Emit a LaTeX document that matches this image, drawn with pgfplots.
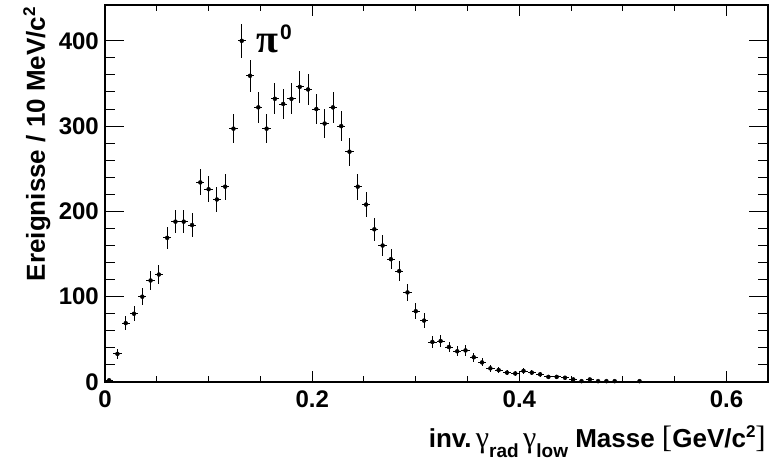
\documentclass[border=0pt]{standalone}
\usepackage{fontspec}
\setmainfont{Liberation Sans}
\newfontfamily\greekserif{Liberation Serif}
\usepackage{pgfplots}
\pgfplotsset{compat=1.18}
\usepackage{pgfplotstable}

\pgfplotstableread{
x y ex ey
0.004 2 0.004 1.41
0.012 33 0.004 5.74
0.020 69 0.004 8.31
0.028 80 0.004 8.94
0.036 100 0.004 10.00
0.044 119 0.004 10.91
0.052 126 0.004 11.22
0.060 169 0.004 13.00
0.068 188 0.004 13.71
0.076 188 0.004 13.71
0.084 184 0.004 13.56
0.092 234 0.004 15.30
0.100 226 0.004 15.03
0.108 214 0.004 14.63
0.116 229 0.004 15.13
0.124 297 0.004 17.23
0.132 400 0.004 20.00
0.140 359 0.004 18.95
0.148 322 0.004 17.94
0.156 297 0.004 17.23
0.164 332 0.004 18.22
0.172 326 0.004 18.06
0.180 332 0.004 18.22
0.188 346 0.004 18.60
0.196 343 0.004 18.52
0.204 320 0.004 17.89
0.212 303 0.004 17.41
0.220 322 0.004 17.94
0.228 300 0.004 17.32
0.236 270 0.004 16.43
0.244 229 0.004 15.13
0.252 208 0.004 14.42
0.260 179 0.004 13.38
0.268 160 0.004 12.65
0.276 144 0.004 12.00
0.284 130 0.004 11.40
0.292 105 0.004 10.25
0.300 83 0.004 9.11
0.308 72 0.004 8.49
0.316 47 0.004 6.86
0.324 48 0.004 6.93
0.332 41 0.004 6.40
0.340 36 0.004 6.00
0.348 37 0.004 6.08
0.356 29 0.004 5.39
0.364 23 0.004 4.80
0.372 16 0.004 4.00
0.380 14 0.004 3.74
0.388 11 0.004 3.32
0.396 10 0.004 3.16
0.404 13 0.004 3.61
0.412 11 0.004 3.32
0.420 9 0.004 3.00
0.428 6 0.004 2.45
0.436 6 0.004 2.45
0.444 5 0.004 2.24
0.452 3 0.004 1.73
0.460 1 0.004 1.00
0.468 3 0.004 1.73
0.476 1 0.004 1.00
0.484 1 0.004 1.00
0.492 1 0.004 1.00
0.516 1 0.004 1.00
}\histdata

\begin{document}
\begin{tikzpicture}
\useasboundingbox (0,0) rectangle (769pt,464pt);
\begin{axis}[
  name=ax,
  at={(105pt,82pt)}, anchor=south west,
  scale only axis, width=663pt, height=377pt,
  xmin=0, xmax=0.64, ymin=0, ymax=442,
  axis line style={line width=1.4pt},
  xtick={0,0.2,0.4,0.6}, minor x tick num=3,
  ytick={0,100,200,300,400}, minor y tick num=4,
  tick align=inside,
  x tick style={line width=1pt, black, /pgfplots/major tick length=11pt, /pgfplots/minor tick length=6pt},
  y tick style={line width=1pt, black, /pgfplots/major tick length=19pt, /pgfplots/minor tick length=10pt},
  tick label style={font=\fontsize{24}{24}\selectfont\bfseries, /pgf/number format/assume math mode=true},
  xticklabel style={inner sep=0pt, yshift=-9pt},
  yticklabel style={inner sep=0pt, xshift=-6pt},
]
\addplot[only marks, mark=none,
  error bars/.cd, x dir=both, x explicit, y dir=both, y explicit,
  error mark=none, error bar style={line width=0.8pt, black}]
  table[x=x, y=y, x error=ex, y error=ey] {\histdata};
\end{axis}
\node[anchor=base west, inner sep=0pt, font={\fontsize{40}{40}\selectfont\greekserif\bfseries}] (pi) at (256pt,411pt) {π};
\node[anchor=base west, inner sep=0pt, font={\fontsize{21}{21}\selectfont\bfseries}] at (280pt,424pt) {0};
\node[anchor=base east, inner sep=0pt, font={\fontsize{26}{26}\selectfont\bfseries}] at (766pt,17pt) {inv.\,{\fontsize{30}{30}\selectfont\greekserif\mdseries γ}\lower10pt\hbox{\fontsize{19}{19}\selectfont\bfseries rad}\,{\fontsize{30}{30}\selectfont\greekserif\mdseries γ}\lower10pt\hbox{\fontsize{19}{19}\selectfont\bfseries low} Masse {\fontsize{31}{31}\selectfont\greekserif\mdseries [}GeV/c\raise10pt\hbox{\fontsize{17}{17}\selectfont\bfseries 2}{\fontsize{31}{31}\selectfont\greekserif\mdseries ]}};
\node[rotate=90, anchor=base east, inner sep=0pt, font={\fontsize{26}{26}\selectfont\bfseries}] at (45pt,457pt) {Ereignisse / 10 MeV/c\raise10pt\hbox{\fontsize{17}{17}\selectfont\bfseries 2}};
\end{tikzpicture}
\end{document}
